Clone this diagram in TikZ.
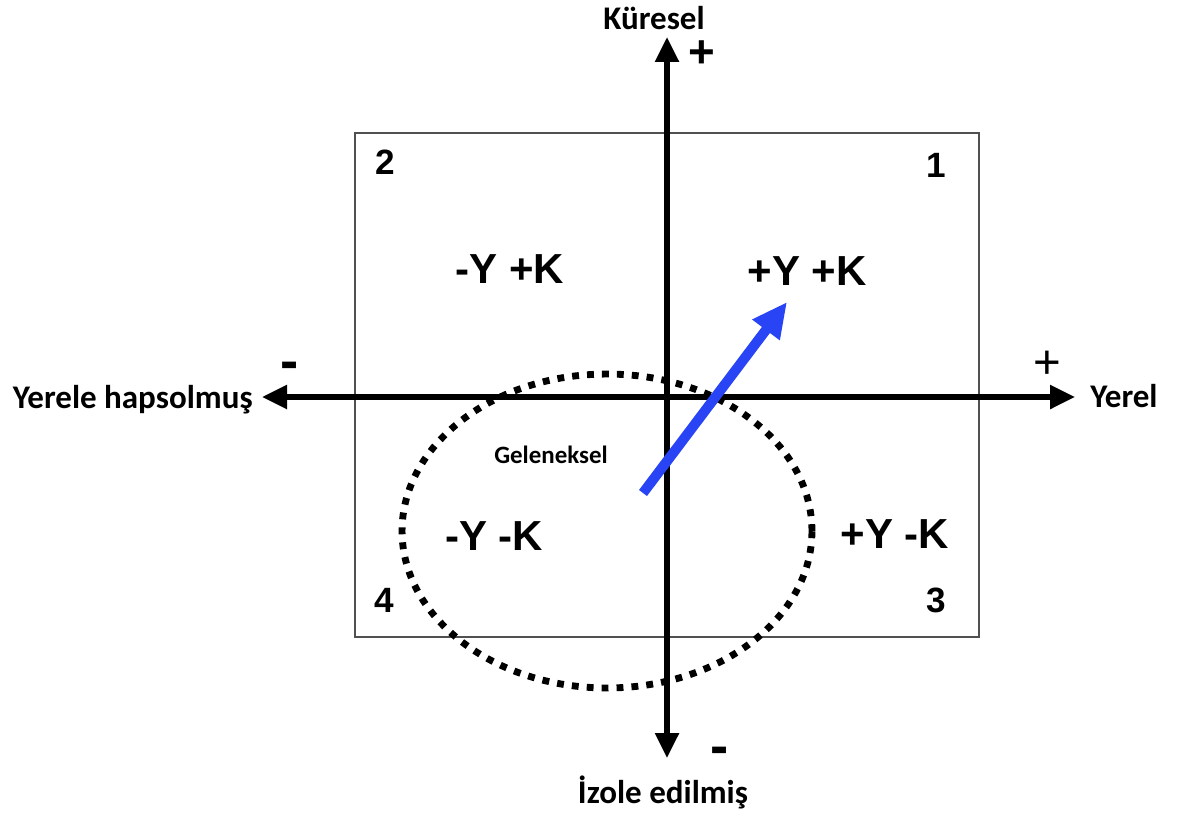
\documentclass[tikz,border=0pt]{standalone}
\usepackage{fontspec}
\setmainfont{Liberation Sans}
\newfontfamily\carl{Carlito}
\usetikzlibrary{arrows.meta}
\definecolor{arrowblue}{RGB}{40,68,245}
\definecolor{boxgray}{RGB}{80,80,80}
\begin{document}
\begin{tikzpicture}[x=0.02cm,y=-0.02cm,
  axis/.style={line width=3.2pt,{Triangle[length=0.5cm,width=0.46cm]}-{Triangle[length=0.5cm,width=0.46cm]}},
  axlabel/.style={font=\carl\bfseries\fontsize{18.8pt}{22pt}\selectfont,inner sep=0},
  quad/.style={font=\bfseries\fontsize{23.9pt}{28pt}\selectfont,inner sep=0},
  num/.style={font=\bfseries\fontsize{20pt}{24pt}\selectfont,inner sep=0},
  plussign/.style={inner sep=0,anchor=center},
  minussign/.style={inner sep=0,anchor=base,font=\bfseries\fontsize{31pt}{36pt}\selectfont},
  dotted ellipse/.style={line width=3.9pt,dash pattern=on 3.9pt off 4.6pt},
]
\useasboundingbox (0,0) rectangle (1182,815);
% box
\draw[boxgray,line width=0.85pt] (355,133) rectangle (979,637);
% ellipse
\draw[dotted ellipse] (607,531) ellipse [x radius=4.1cm, y radius=3.14cm];
% axes
\coordinate (top) at (667,37);
\coordinate (bottom) at (667,758);
\coordinate (left) at (262,397);
\coordinate (right) at (1075,397);
\draw[axis] (bottom) -- (top);
\draw[axis] (left) -- (right);
% blue arrow
\coordinate (bt) at (643,493);
\coordinate (bh) at (787,302);
\draw[arrowblue,line width=5.7pt,-{Triangle[length=0.7cm,width=0.64cm]}] (bt) -- (bh);
% axis labels
\node[axlabel,anchor=base] (kuresel) at (654,29) {Küresel};
\node[axlabel,anchor=base west] (yerel) at (1090,407) {Yerel};
\node[axlabel,anchor=base east] (hapsolmus) at (253,408) {Yerele hapsolmuş};
\node[axlabel,anchor=base] (izole) at (663,803) {İzole edilmiş};
\node[font=\carl\bfseries\fontsize{14.2pt}{17pt}\selectfont,inner sep=0,anchor=base] (geleneksel) at (551,463) {Geleneksel};
% signs
\node[plussign,font=\bfseries\fontsize{26pt}{30pt}\selectfont] (plustop) at (702,54) {+};
\node[plussign,font=\fontsize{27pt}{30pt}\selectfont] (plusright) at (1047,365) {+};
\node[minussign] (minusleft) at (290,379) {-};
\node[minussign] (minusbottom) at (720,764) {-};
% quadrant numbers
\node[num,anchor=base] (n2) at (385,174) {2};
\node[num,anchor=base] (n1) at (936,177) {1};
\node[num,anchor=base] (n4) at (384,612) {4};
\node[num,anchor=base] (n3) at (936,612) {3};
% quadrant labels
\node[quad,anchor=base] (q2) at (510,283) {-Y +K};
\node[quad,anchor=base] (q1) at (807,285) {+Y +K};
\node[quad,anchor=base] (q4) at (494,550) {-Y -K};
\node[quad,anchor=base] (q3) at (895,548) {+Y -K};
\end{tikzpicture}
\end{document}
